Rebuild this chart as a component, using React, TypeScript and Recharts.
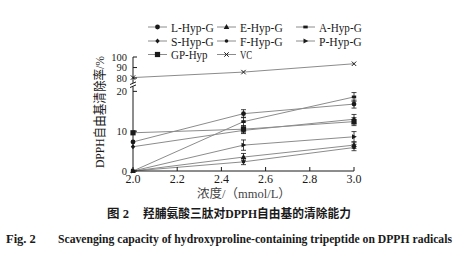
import React from 'react'
import { LineChart, Line, XAxis, YAxis, ErrorBar } from 'recharts'

// concentration (mmol/L)
const concentrations = [2.0, 2.5, 3.0]

// DPPH scavenging rate (%)
const lHypG = [7.3, 14.4, 16.8]
const eHypG = [0, 3.5, 6.5]
const aHypG = [0, 12.4, 18.6]
const sHypG = [6.1, 10.2, 13.0]
const fHypG = [0, 2.3, 5.9]
const pHypG = [0, 6.5, 8.6]
const gpHyp = [9.6, 10.5, 12.4]
const vc = [80.5, 85.7, 93.6]

// standard deviations
const lHypGErr = [null, 1.0, 1.0]
const eHypGErr = [null, 0.9, 0.8]
const aHypGErr = [null, 1.1, 1.1]
const sHypGErr = [null, 0.8, 1.2]
const fHypGErr = [null, 0.7, 0.8]
const pHypGErr = [null, 1.3, 1.3]
const gpHypErr = [null, 0.9, 1.0]
const vcErr = [null, null, null]

const xTicks = [2.0, 2.2, 2.4, 2.6, 2.8, 3.0]
const yTicks = [0, 10, 20, 80, 90, 100]

const INK = '#1a1a1a'
const LINE = '#8c8c8c'
const SERIF = "'Liberation Serif', 'Noto Sans CJK SC', serif"

// broken y axis: 0-20 drawn at full scale, 80-100 compressed above a gap
const LOW_MAX = 20
const HIGH_MIN = 80
const GAP = 3.33
const HIGH_RATIO = 0.265
const toAxis = (v: number) =>
  v <= LOW_MAX ? v : LOW_MAX + GAP + (v - HIGH_MIN) * HIGH_RATIO
const Y_MAX = toAxis(100)
const yTickPos = yTicks.map(toAxis)

const series = [
  { key: 'lHypG', name: 'L-Hyp-G', values: lHypG, errors: lHypGErr, marker: 'circle' },
  { key: 'eHypG', name: 'E-Hyp-G', values: eHypG, errors: eHypGErr, marker: 'triangle' },
  { key: 'aHypG', name: 'A-Hyp-G', values: aHypG, errors: aHypGErr, marker: 'dash' },
  { key: 'sHypG', name: 'S-Hyp-G', values: sHypG, errors: sHypGErr, marker: 'diamond' },
  { key: 'fHypG', name: 'F-Hyp-G', values: fHypG, errors: fHypGErr, marker: 'dot' },
  { key: 'pHypG', name: 'P-Hyp-G', values: pHypG, errors: pHypGErr, marker: 'arrow' },
  { key: 'gpHyp', name: 'GP-Hyp', values: gpHyp, errors: gpHypErr, marker: 'square' },
  { key: 'vc', name: 'VC', values: vc, errors: vcErr, marker: 'cross' }
]

const data = concentrations.map((c, i) => {
  const row: any = { c }
  series.forEach(s => {
    row[s.key] = toAxis(s.values[i])
    row[s.key + 'Err'] = s.errors[i]
  })
  return row
})

// layout
const W = 474
const H = 263
const Y_AXIS_W = 40
const X_AXIS_H = 30
const PLOT_LEFT = 133
const PLOT_RIGHT = 354
const PLOT_TOP = 57
const PLOT_BOTTOM = 171
const yPx = (t: number) => PLOT_BOTTOM - (t / Y_MAX) * (PLOT_BOTTOM - PLOT_TOP)

const Marker = ({ shape, cx, cy }: { shape: string; cx: number; cy: number }) => {
  switch (shape) {
    case 'circle':
      return <circle cx={cx} cy={cy} r={2.4} fill={INK} />
    case 'triangle':
      return <polygon points={`${cx},${cy - 3} ${cx - 2.8},${cy + 2} ${cx + 2.8},${cy + 2}`} fill={INK} />
    case 'dash':
      return <rect x={cx - 2.2} y={cy - 1.4} width={4.4} height={2.8} fill={INK} />
    case 'diamond':
      return <polygon points={`${cx},${cy - 2.6} ${cx + 2.2},${cy} ${cx},${cy + 2.6} ${cx - 2.2},${cy}`} fill={INK} />
    case 'dot':
      return <circle cx={cx} cy={cy} r={1.8} fill={INK} />
    case 'arrow':
      return <polygon points={`${cx + 2.8},${cy} ${cx - 2},${cy - 2.4} ${cx - 2},${cy + 2.4}`} fill={INK} />
    case 'square':
      return <rect x={cx - 2.6} y={cy - 2.6} width={5.2} height={5.2} fill={INK} />
    case 'cross':
      return (
        <g stroke={INK} strokeWidth={1}>
          <line x1={cx - 2.2} y1={cy - 2.2} x2={cx + 2.2} y2={cy + 2.2} />
          <line x1={cx - 2.2} y1={cy + 2.2} x2={cx + 2.2} y2={cy - 2.2} />
        </g>
      )
    default:
      return null
  }
}

const XTick = ({ x, y, payload }: any) => (
  <g>
    <line x1={x} y1={y} x2={x} y2={y - 4} stroke={INK} strokeWidth={1} />
    <text x={x} y={y + 12} textAnchor="middle" fontSize={12} fontFamily={SERIF} fill={INK}>
      {Number(payload.value).toFixed(1)}
    </text>
  </g>
)

const YTick = ({ x, y, payload }: any) => {
  const idx = yTickPos.findIndex(p => Math.abs(p - payload.value) < 1e-6)
  return (
    <g>
      <line x1={x} y1={y} x2={x + 4} y2={y} stroke={INK} strokeWidth={1} />
      <text x={x - 6} y={y + 3.5} textAnchor="end" fontSize={10.5} fontFamily={SERIF} fill={INK}>
        {idx >= 0 ? yTicks[idx] : ''}
      </text>
    </g>
  )
}

const legendCols = [148, 217, 296]
const legendRows = [27, 41, 54.5]

const Legend = () => (
  <g>
    {series.map((s, i) => {
      const lx = legendCols[i % 3]
      const ly = legendRows[Math.floor(i / 3)]
      return (
        <g key={s.key}>
          <line x1={lx} y1={ly} x2={lx + 19} y2={ly} stroke={LINE} strokeWidth={1} />
          <Marker shape={s.marker} cx={lx + 9.5} cy={ly} />
          <text x={lx + 23} y={ly + 4.5} fontSize={12.5} fontFamily={SERIF} fill={INK}
            textLength={s.name.length * 6.1} lengthAdjust="spacingAndGlyphs">
            {s.name}
          </text>
        </g>
      )
    })}
  </g>
)

export default function App() {
  const breakY = yPx(LOW_MAX + GAP / 2)
  return (
    <div style={{ position: 'absolute', left: 0, top: 0, width: W, height: H, background: '#fff' }}>
      <LineChart
        width={W}
        height={H}
        data={data}
        margin={{ top: PLOT_TOP, right: W - PLOT_RIGHT, left: PLOT_LEFT - Y_AXIS_W, bottom: H - PLOT_BOTTOM - X_AXIS_H }}
      >
        <XAxis
          dataKey="c"
          type="number"
          domain={[2.0, 3.0]}
          ticks={xTicks}
          height={X_AXIS_H}
          tickSize={0}
          tickMargin={0}
          tick={<XTick />}
          axisLine={{ stroke: INK, strokeWidth: 1 }}
          tickLine={false}
          interval={0}
        />
        <YAxis
          type="number"
          domain={[0, Y_MAX]}
          ticks={yTickPos}
          width={Y_AXIS_W}
          tickSize={0}
          tickMargin={0}
          tick={<YTick />}
          axisLine={{ stroke: INK, strokeWidth: 1 }}
          tickLine={false}
          interval={0}
        />
        {series.map(s => (
          <Line
            key={s.key}
            dataKey={s.key}
            name={s.name}
            type="linear"
            stroke={LINE}
            strokeWidth={1}
            isAnimationActive={false}
            dot={(p: any) => <Marker key={`${s.key}-${p.index}`} shape={s.marker} cx={p.cx} cy={p.cy} />}
            activeDot={false}
          >
            {s.key !== 'vc' && (
              <ErrorBar dataKey={s.key + 'Err'} width={2.5} stroke={INK} strokeWidth={0.8} direction="y" />
            )}
          </Line>
        ))}
      </LineChart>
      <svg width={W} height={H} style={{ position: 'absolute', left: 0, top: 0, pointerEvents: 'none' }}>
        {/* axis break */}
        <rect x={PLOT_LEFT - 3} y={breakY - 1.8} width={6} height={3.6} fill="#fff" />
        <line x1={PLOT_LEFT - 3} y1={breakY - 0.2} x2={PLOT_LEFT + 3} y2={breakY - 2.8} stroke={INK} strokeWidth={1} />
        <line x1={PLOT_LEFT - 3} y1={breakY + 2.8} x2={PLOT_LEFT + 3} y2={breakY + 0.2} stroke={INK} strokeWidth={1} />
        <Legend />
        <text
          transform="translate(104, 112) rotate(-90)"
          textAnchor="middle"
          fontSize={13}
          fontFamily={SERIF}
          fill={INK}
          textLength={112}
          lengthAdjust="spacingAndGlyphs"
        >
          DPPH自由基清除率/%
        </text>
        <text x={244} y={198} textAnchor="middle" fontSize={12.5} fontFamily={SERIF} fill="#444">
          浓度/（mmol/L）
        </text>
        <text x={107} y={218} fontSize={12.5} fontWeight="bold" fontFamily={SERIF} fill={INK}>
          图 2
        </text>
        <text
          x={143}
          y={218}
          fontSize={12.5}
          fontWeight="bold"
          fontFamily={SERIF}
          fill={INK}
          textLength={208}
          lengthAdjust="spacingAndGlyphs"
        >
          羟脯氨酸三肽对DPPH自由基的清除能力
        </text>
        <text x={6} y={243} fontSize={12.5} fontWeight="bold" fontFamily={SERIF} fill={INK}>
          Fig. 2
        </text>
        <text
          x={58}
          y={243}
          fontSize={11.5}
          fontWeight="bold"
          fontFamily={SERIF}
          fill={INK}
          textLength={394}
          lengthAdjust="spacingAndGlyphs"
        >
          Scavenging capacity of hydroxyproline-containing tripeptide on DPPH radicals
        </text>
      </svg>
    </div>
  )
}
